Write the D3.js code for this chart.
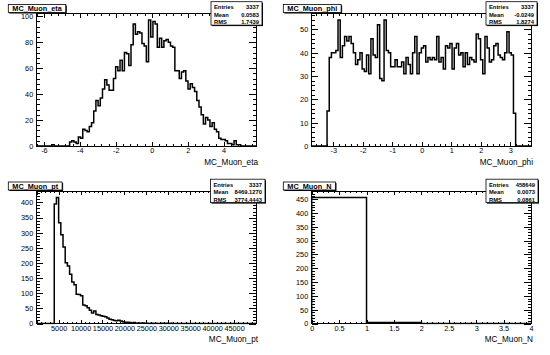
<!DOCTYPE html>
<html><head><meta charset="utf-8">
<script src="https://cdn.jsdelivr.net/npm/d3@7"></script>
<style>
html,body{margin:0;padding:0;background:#fff;}
svg{display:block;font-family:"Liberation Sans",Arial,Helvetica,sans-serif;}
</style></head><body>
<svg id="c" width="550" height="355"></svg>
<script>
// ---------- data ----------
const titles = ["MC_Muon_eta", "MC_Muon_phi", "MC_Muon_pt", "MC_Muon_N"];
const statLabels = ["Entries", "Mean", "RMS"];

const etaRange = [-6.4, 5.8];
const etaCounts = [
  0,0,0,0,0,0,0,1,0,0,
  0,0,0,0,0,3,4,3,2,7,
  6,13,12,11,15,18,27,35,31,37,
  44,51,47,43,43,52,61,58,66,58,
  72,71,62,78,94,86,88,87,79,77,
  65,97,84,96,94,76,83,76,81,82,
  80,77,76,58,58,52,57,58,50,44,
  48,45,42,35,30,24,17,22,20,15,
  18,13,11,6,5,5,4,2,2,1,
  4,1,1,0,0,0,0,0,0,0
];
const etaStats = ["3337", "0.0583", "1.7439"];
const etaLabels = [-6, -4, -2, 0, 2, 4];

const phiRange = [-3.73, 3.70];
const phiCounts = [
  0,0,0,0,0,0,0,15,38,40,
  40,41,54,38,43,47,45,47,44,40,
  35,37,40,33,32,39,31,46,39,38,
  52,29,28,54,41,40,34,34,37,34,
  34,36,31,38,35,31,40,47,31,40,
  42,43,36,38,37,38,37,47,36,38,
  33,43,42,44,33,42,44,39,40,34,
  40,35,38,37,36,48,46,37,31,47,
  42,36,37,43,44,39,38,37,40,49,
  40,39,14,0,0,0,0,0,0,0
];
const phiStats = ["3337", "-0.0249", "1.8274"];
const phiLabels = [-3, -2, -1, 0, 1, 2, 3];

const ptRange = [0, 50000];
const ptCounts = [
  0,0,0,0,0,0,0,0,395,416,
  333,293,253,201,190,163,137,128,97,96,
  92,61,59,52,44,35,41,30,28,26,
  24,22,18,14,12,10,9,11,8,6,
  4,4,3,2,3,1,2,1,2,1,
  1,0,1,0,1,0,0,1,0,1,
  0,1,0,0,0,0,0,0,0,0,
  0,0,0,0,0,0,0,0,0,0,
  0,0,0,0,0,0,0,0,0,0,
  0,0,0,0,0,0,0,0,0,0
];
const ptStats = ["3337", "8469.1270", "3774.4443"];
const ptLabels = [5000, 10000, 15000, 20000, 25000, 30000, 35000, 40000, 45000];

const nRange = [0, 4];
const nCounts = [455.3, 3.3, 0, 0];
const nStats = ["458649", "0.0073", "0.0861"];
const nLabels = [0, 0.5, 1, 1.5, 2, 2.5, 3, 3.5, 4];

// tick steps [xMajor, xMinor, yMajor, yMinor]
const etaTicks = [2, 0.4, 20, 4];
const phiTicks = [1, 0.2, 10, 2];
const ptTicks = [5000, 1000, 50, 10];
const nTicks = [0.5, 0.1, 50, 10];

// ---------- drawing ----------
const svg = d3.select("#c");
svg.append("rect").attr("width", 550).attr("height", 355).attr("fill", "#fff");

const panels = [
  {title: titles[0], counts: etaCounts, range: etaRange, stats: etaStats, ticks: etaTicks, labels: etaLabels, ox: 0,   oy: 0,     statBox: [211, 262]},
  {title: titles[1], counts: phiCounts, range: phiRange, stats: phiStats, ticks: phiTicks, labels: phiLabels, ox: 275, oy: 0,     statBox: [211, 262]},
  {title: titles[2], counts: ptCounts,  range: ptRange,  stats: ptStats,  ticks: ptTicks,  labels: ptLabels,  ox: 0,   oy: 177.5, statBox: [210.5, 265]},
  {title: titles[3], counts: nCounts,   range: nRange,   stats: nStats,   ticks: nTicks,   labels: nLabels,   ox: 275, oy: 177.5, statBox: [211, 263]}
];

function makeTicks(lo, hi, step) {
  const a = [];
  for (let k = Math.ceil(lo / step - 1e-9); k * step <= hi + 1e-9; k++) a.push(+(k * step).toFixed(6));
  return a;
}
const fmt = d => String(+d.toFixed(6));

panels.forEach((p, idx) => {
  const fx0 = p.ox + 36.7, fx1 = p.ox + 256;
  const fy0 = p.oy + 13.8, fy1 = p.oy + 146;
  const g = svg.append("g");
  const ymax = d3.max(p.counts) * 1.05;
  const x = d3.scaleLinear().domain(p.range).range([fx0, fx1]);
  const y = d3.scaleLinear().domain([0, ymax]).range([fy1, fy0]);
  const [xM, xm, yM, ym] = p.ticks;
  const xMaj = makeTicks(p.range[0], p.range[1], xM);
  const xMin = makeTicks(p.range[0], p.range[1], xm);
  const yMaj = makeTicks(0, ymax, yM);
  const yMin = makeTicks(0, ymax, ym);
  const xLen = 4, yLen = 6.6;

  const clean = sel => { sel.select(".domain").remove(); sel.selectAll("line").attr("stroke", "#000").attr("shape-rendering", "crispEdges"); };

  // bottom axis
  g.append("g").attr("transform", `translate(0,${fy1})`)
    .call(d3.axisBottom(x).tickValues(xMin).tickSize(-xLen / 2).tickFormat(""))
    .call(clean);
  g.append("g").attr("transform", `translate(0,${fy1})`)
    .call(d3.axisBottom(x).tickValues(xMaj).tickSize(-xLen).tickFormat(""))
    .call(clean);
  const bx = g.append("g").attr("transform", `translate(0,${fy1})`)
    .call(d3.axisBottom(x).tickValues(p.labels).tickSize(0).tickPadding(2).tickFormat(fmt))
    .call(clean);
  bx.selectAll("text").attr("font-size", 7.3).attr("fill", "#000").attr("font-family", "Liberation Sans, Arial, sans-serif");
  // top mirrored
  g.append("g").attr("transform", `translate(0,${fy0})`)
    .call(d3.axisTop(x).tickValues(xMin).tickSize(-xLen / 2).tickFormat("")).call(clean);
  g.append("g").attr("transform", `translate(0,${fy0})`)
    .call(d3.axisTop(x).tickValues(xMaj).tickSize(-xLen).tickFormat("")).call(clean);
  // left axis
  g.append("g").attr("transform", `translate(${fx0},0)`)
    .call(d3.axisLeft(y).tickValues(yMin).tickSize(-yLen / 2).tickFormat("")).call(clean);
  const ly = g.append("g").attr("transform", `translate(${fx0},0)`)
    .call(d3.axisLeft(y).tickValues(yMaj).tickSize(-yLen).tickPadding(3.5).tickFormat(fmt))
    .call(clean);
  ly.selectAll("text").attr("font-size", 7.3).attr("fill", "#000").attr("font-family", "Liberation Sans, Arial, sans-serif");
  // right mirrored
  g.append("g").attr("transform", `translate(${fx1},0)`)
    .call(d3.axisRight(y).tickValues(yMin).tickSize(-yLen / 2).tickFormat("")).call(clean);
  g.append("g").attr("transform", `translate(${fx1},0)`)
    .call(d3.axisRight(y).tickValues(yMaj).tickSize(-yLen).tickFormat("")).call(clean);

  // histogram
  const n = p.counts.length;
  const bw = (p.range[1] - p.range[0]) / n;
  const pts = [[p.range[0], 0]];
  p.counts.forEach((c, i) => {
    pts.push([p.range[0] + i * bw, c]);
    pts.push([p.range[0] + (i + 1) * bw, c]);
  });
  pts.push([p.range[1], 0]);
  const clipId = "clip" + idx;
  g.append("clipPath").attr("id", clipId).append("rect")
    .attr("x", fx0).attr("y", fy0).attr("width", fx1 - fx0).attr("height", fy1 - fy0 + 1);
  g.append("path").attr("clip-path", `url(#${clipId})`)
    .attr("d", d3.line().x(d => x(d[0])).y(d => y(d[1]))(pts))
    .attr("fill", "none").attr("stroke", "#000").attr("stroke-width", 1.5)
    .attr("stroke-linejoin", "miter");

  // frame
  g.append("rect").attr("x", fx0).attr("y", fy0).attr("width", fx1 - fx0).attr("height", fy1 - fy0)
    .attr("fill", "none").attr("stroke", "#000").attr("stroke-width", 1).attr("shape-rendering", "crispEdges");

  // axis title
  g.append("text").attr("x", fx1 + 2).attr("y", fy1 + 18.5).attr("text-anchor", "end")
    .attr("font-size", 8.2).attr("fill", "#000").text(p.title);

  // title box
  const tb = g.append("g");
  const tt = tb.append("text").attr("font-size", 7.3).attr("font-weight", "bold").attr("fill", "#000")
    .text(p.title);
  const tw = tt.node().getComputedTextLength();
  const bx0 = p.ox + 8.3, by0 = p.oy + 4.5, bwid = tw + 8, bh = 8;
  tb.insert("rect", "text").attr("x", bx0 + 1).attr("y", by0 + 1).attr("width", bwid).attr("height", bh).attr("fill", "#000");
  tb.insert("rect", "text").attr("x", bx0).attr("y", by0).attr("width", bwid).attr("height", bh)
    .attr("fill", "#fff").attr("stroke", "#000").attr("stroke-width", 0.8);
  tt.attr("x", bx0 + bwid / 2).attr("y", by0 + 6.7).attr("text-anchor", "middle");

  // stats box
  const sx0 = p.ox + p.statBox[0], sx1 = p.ox + p.statBox[1];
  const sy0 = p.oy + 1.7, sh = 23.4;
  g.append("rect").attr("x", sx0 + 1).attr("y", sy0 + 1).attr("width", sx1 - sx0).attr("height", sh).attr("fill", "#000");
  g.append("rect").attr("x", sx0).attr("y", sy0).attr("width", sx1 - sx0).attr("height", sh)
    .attr("fill", "#fff").attr("stroke", "#000").attr("stroke-width", 0.8);
  statLabels.forEach((lab, k) => {
    const by = sy0 + 7.6 + k * 7.5;
    g.append("text").attr("x", sx0 + 3).attr("y", by).attr("font-size", 5.8).attr("font-weight", "bold")
      .attr("fill", "#000").text(lab);
    g.append("text").attr("x", sx1 - 3).attr("y", by).attr("font-size", 5.8).attr("font-weight", "bold")
      .attr("text-anchor", "end").attr("fill", "#000").text(p.stats[k]);
  });
});
</script>
</body></html>
